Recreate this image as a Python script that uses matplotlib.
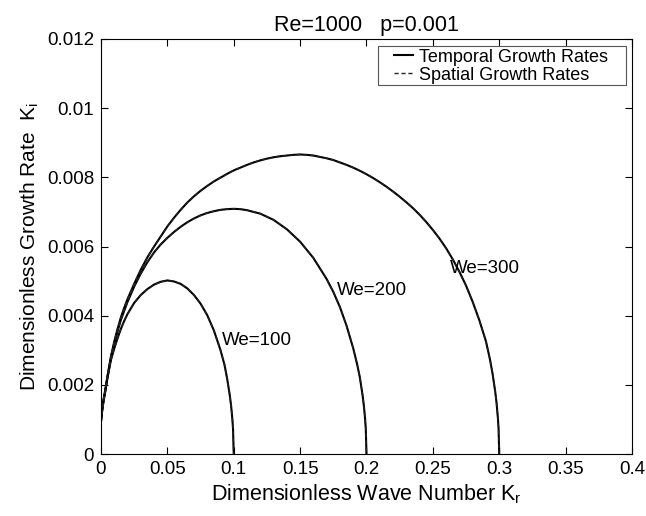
import matplotlib
matplotlib.use("Agg")
import matplotlib.pyplot as plt
from matplotlib.patches import Rectangle

plt.rcParams['font.family'] = ['Liberation Sans', 'DejaVu Sans']
plt.rcParams['mathtext.default'] = 'regular'

# We = 100
k100 = [0.0, 0.001, 0.002, 0.003, 0.005, 0.0075, 0.01, 0.0125, 0.015, 0.0175, 0.02,
        0.025, 0.03, 0.035, 0.04, 0.045, 0.05, 0.055, 0.06, 0.065, 0.07, 0.075, 0.08,
        0.085, 0.09, 0.093, 0.095, 0.097, 0.098, 0.099, 0.0995, 0.1]
g100 = [0.00095, 0.0013, 0.00155, 0.00175, 0.00222, 0.00272, 0.00305, 0.00335, 0.00362,
        0.00385, 0.00405, 0.00437, 0.00460, 0.00477, 0.00490, 0.00498, 0.00502, 0.00499,
        0.00492, 0.00479, 0.00460, 0.00435, 0.00402, 0.00358, 0.00301, 0.00259, 0.00219,
        0.00171, 0.00141, 0.00100, 0.00071, 0.0]
# We = 200
k200 = [0.0, 0.001, 0.002, 0.003, 0.005, 0.0075, 0.01, 0.0125, 0.015, 0.02, 0.025, 0.03,
        0.035, 0.04, 0.045, 0.05, 0.055, 0.06, 0.065, 0.07, 0.075, 0.08, 0.085, 0.09,
        0.095, 0.1, 0.105, 0.11, 0.12, 0.13, 0.14, 0.15, 0.16, 0.17, 0.175, 0.18, 0.185,
        0.19, 0.193, 0.195, 0.197, 0.198, 0.199, 0.1995, 0.2]
g200 = [0.00095, 0.0013, 0.00157, 0.00178, 0.00225, 0.00278, 0.00318, 0.00355, 0.00388,
        0.00440, 0.00484, 0.00522, 0.00555, 0.00583, 0.00606, 0.00625, 0.00642, 0.00657,
        0.00670, 0.00681, 0.00690, 0.00697, 0.00702, 0.00706, 0.00708, 0.00709, 0.00708,
        0.00705, 0.00695, 0.00677, 0.00650, 0.00614, 0.00567, 0.00506, 0.00469, 0.00425,
        0.00371, 0.00306, 0.00259, 0.00222, 0.00172, 0.00141, 0.00100, 0.00071, 0.0]
# We = 300
k300 = [0.0, 0.001, 0.002, 0.003, 0.005, 0.0075, 0.01, 0.0125, 0.015, 0.0175, 0.02, 0.025,
        0.03, 0.035, 0.04, 0.045, 0.05, 0.055, 0.06, 0.065, 0.07, 0.075, 0.08, 0.085, 0.09,
        0.095, 0.1, 0.105, 0.11, 0.115, 0.12, 0.125, 0.13, 0.135, 0.14, 0.145, 0.15,
        0.155, 0.16, 0.165, 0.17, 0.175, 0.18, 0.185, 0.19, 0.195, 0.2, 0.205, 0.21,
        0.215, 0.22, 0.225, 0.23, 0.235, 0.24, 0.245, 0.25, 0.255, 0.26, 0.265, 0.27,
        0.275, 0.28, 0.285, 0.29, 0.293, 0.295, 0.297, 0.298, 0.299, 0.2995, 0.3]
g300 = [0.00095, 0.0013, 0.00158, 0.0018, 0.00228, 0.00282, 0.00325, 0.00362, 0.00395,
        0.00423, 0.00448, 0.00492, 0.00533, 0.00569, 0.00600, 0.00629, 0.00658, 0.00683,
        0.00706, 0.00727, 0.00745, 0.00761, 0.00775, 0.00788, 0.00799, 0.00810, 0.00820,
        0.00828, 0.00836, 0.00843, 0.00849, 0.00854, 0.00858, 0.00861, 0.00863, 0.00865,
        0.00866, 0.00865, 0.00863, 0.00859, 0.00855, 0.00850, 0.00843, 0.00836, 0.00828,
        0.00819, 0.00809, 0.00798, 0.00786, 0.00773, 0.00759, 0.00744, 0.00728, 0.00711,
        0.00692, 0.00671, 0.00648, 0.00623, 0.00595, 0.00563, 0.00527, 0.00487, 0.00440,
        0.00387, 0.00326, 0.00274, 0.00232, 0.00180, 0.00147, 0.00104, 0.00074, 0.0]

temporal = [(k100, g100), (k200, g200), (k300, g300)]
spatial = [(k100, list(g100)), (k200, list(g200)), (k300, list(g300))]

curve_labels = ["We=100", "We=200", "We=300"]
label_pos = [(0.0911, 0.00329), (0.1776, 0.00472), (0.263, 0.00537)]

xticks = [0, 0.05, 0.1, 0.15, 0.2, 0.25, 0.3, 0.35, 0.4]
xticklabels = ["0", "0.05", "0.1", "0.15", "0.2", "0.25", "0.3", "0.35", "0.4"]
yticks = [0, 0.002, 0.004, 0.006, 0.008, 0.01, 0.012]
yticklabels = ["0", "0.002", "0.004", "0.006", "0.008", "0.01", "0.012"]

fig = plt.figure(figsize=(6.46, 5.16), dpi=100)
ax = fig.add_axes([0.1563, 0.12, 0.822, 0.8045])

for i, (k, g) in enumerate(temporal):
    ax.plot(k, g, color='black', lw=1.5, ls='-', solid_joinstyle='round',
            label='Temporal Growth Rates' if i == 0 else None)
for i, (k, g) in enumerate(spatial):
    ax.plot(k, g, color='#222222', lw=1.0, ls=(0, (3, 2)),
            label='Spatial Growth Rates' if i == 0 else None)

for txt, (x, y) in zip(curve_labels, label_pos):
    ax.text(x, y, txt, fontsize=13.5, ha='left', va='center')

ax.set_xlim(0, 0.4)
ax.set_ylim(0, 0.012)
ax.set_xticks(xticks)
ax.set_xticklabels(xticklabels)
ax.set_yticks(yticks)
ax.set_yticklabels(yticklabels)
ax.tick_params(direction='in', top=True, right=True, labelsize=13.5, length=5,
               width=0.8, pad=5)
for s in ax.spines.values():
    s.set_linewidth(0.8)

ax.set_xlabel('Dimensionless Wave Number K$_r$', fontsize=15.5, labelpad=3)
ax.set_ylabel('Dimensionless Growth Rate  K$_i$', fontsize=15, labelpad=4)
ax.set_title('Re=1000   p=0.001', fontsize=15.5, pad=6)

leg = ax.legend(loc='upper right', fontsize=13, frameon=False,
                handlelength=1.05, handletextpad=0.35, borderpad=0.2,
                labelspacing=0.05, bbox_to_anchor=(0.9616, 0.985), borderaxespad=0.0)

# legend frame with wider horizontal padding than vertical
fig.canvas.draw()
bb = leg.get_window_extent()
fs_px = 13 * fig.dpi / 72.0
inner = 0.2 * fs_px
x0 = bb.x0 + inner - 16
x1 = bb.x1 - inner + 18
y0 = bb.y0 + inner - 1
y1 = bb.y1 - inner + 3
inv = fig.transFigure.inverted()
(fx0, fy0), (fx1, fy1) = inv.transform([(x0, y0), (x1, y1)])
frame = Rectangle((fx0, fy0), fx1 - fx0, fy1 - fy0, transform=fig.transFigure,
                  facecolor='white', edgecolor='#555555', linewidth=0.8, zorder=4)
fig.add_artist(frame)
leg.set_zorder(5)
leg.remove()
fig.add_artist(leg)

fig.savefig('out.png', dpi=100)
